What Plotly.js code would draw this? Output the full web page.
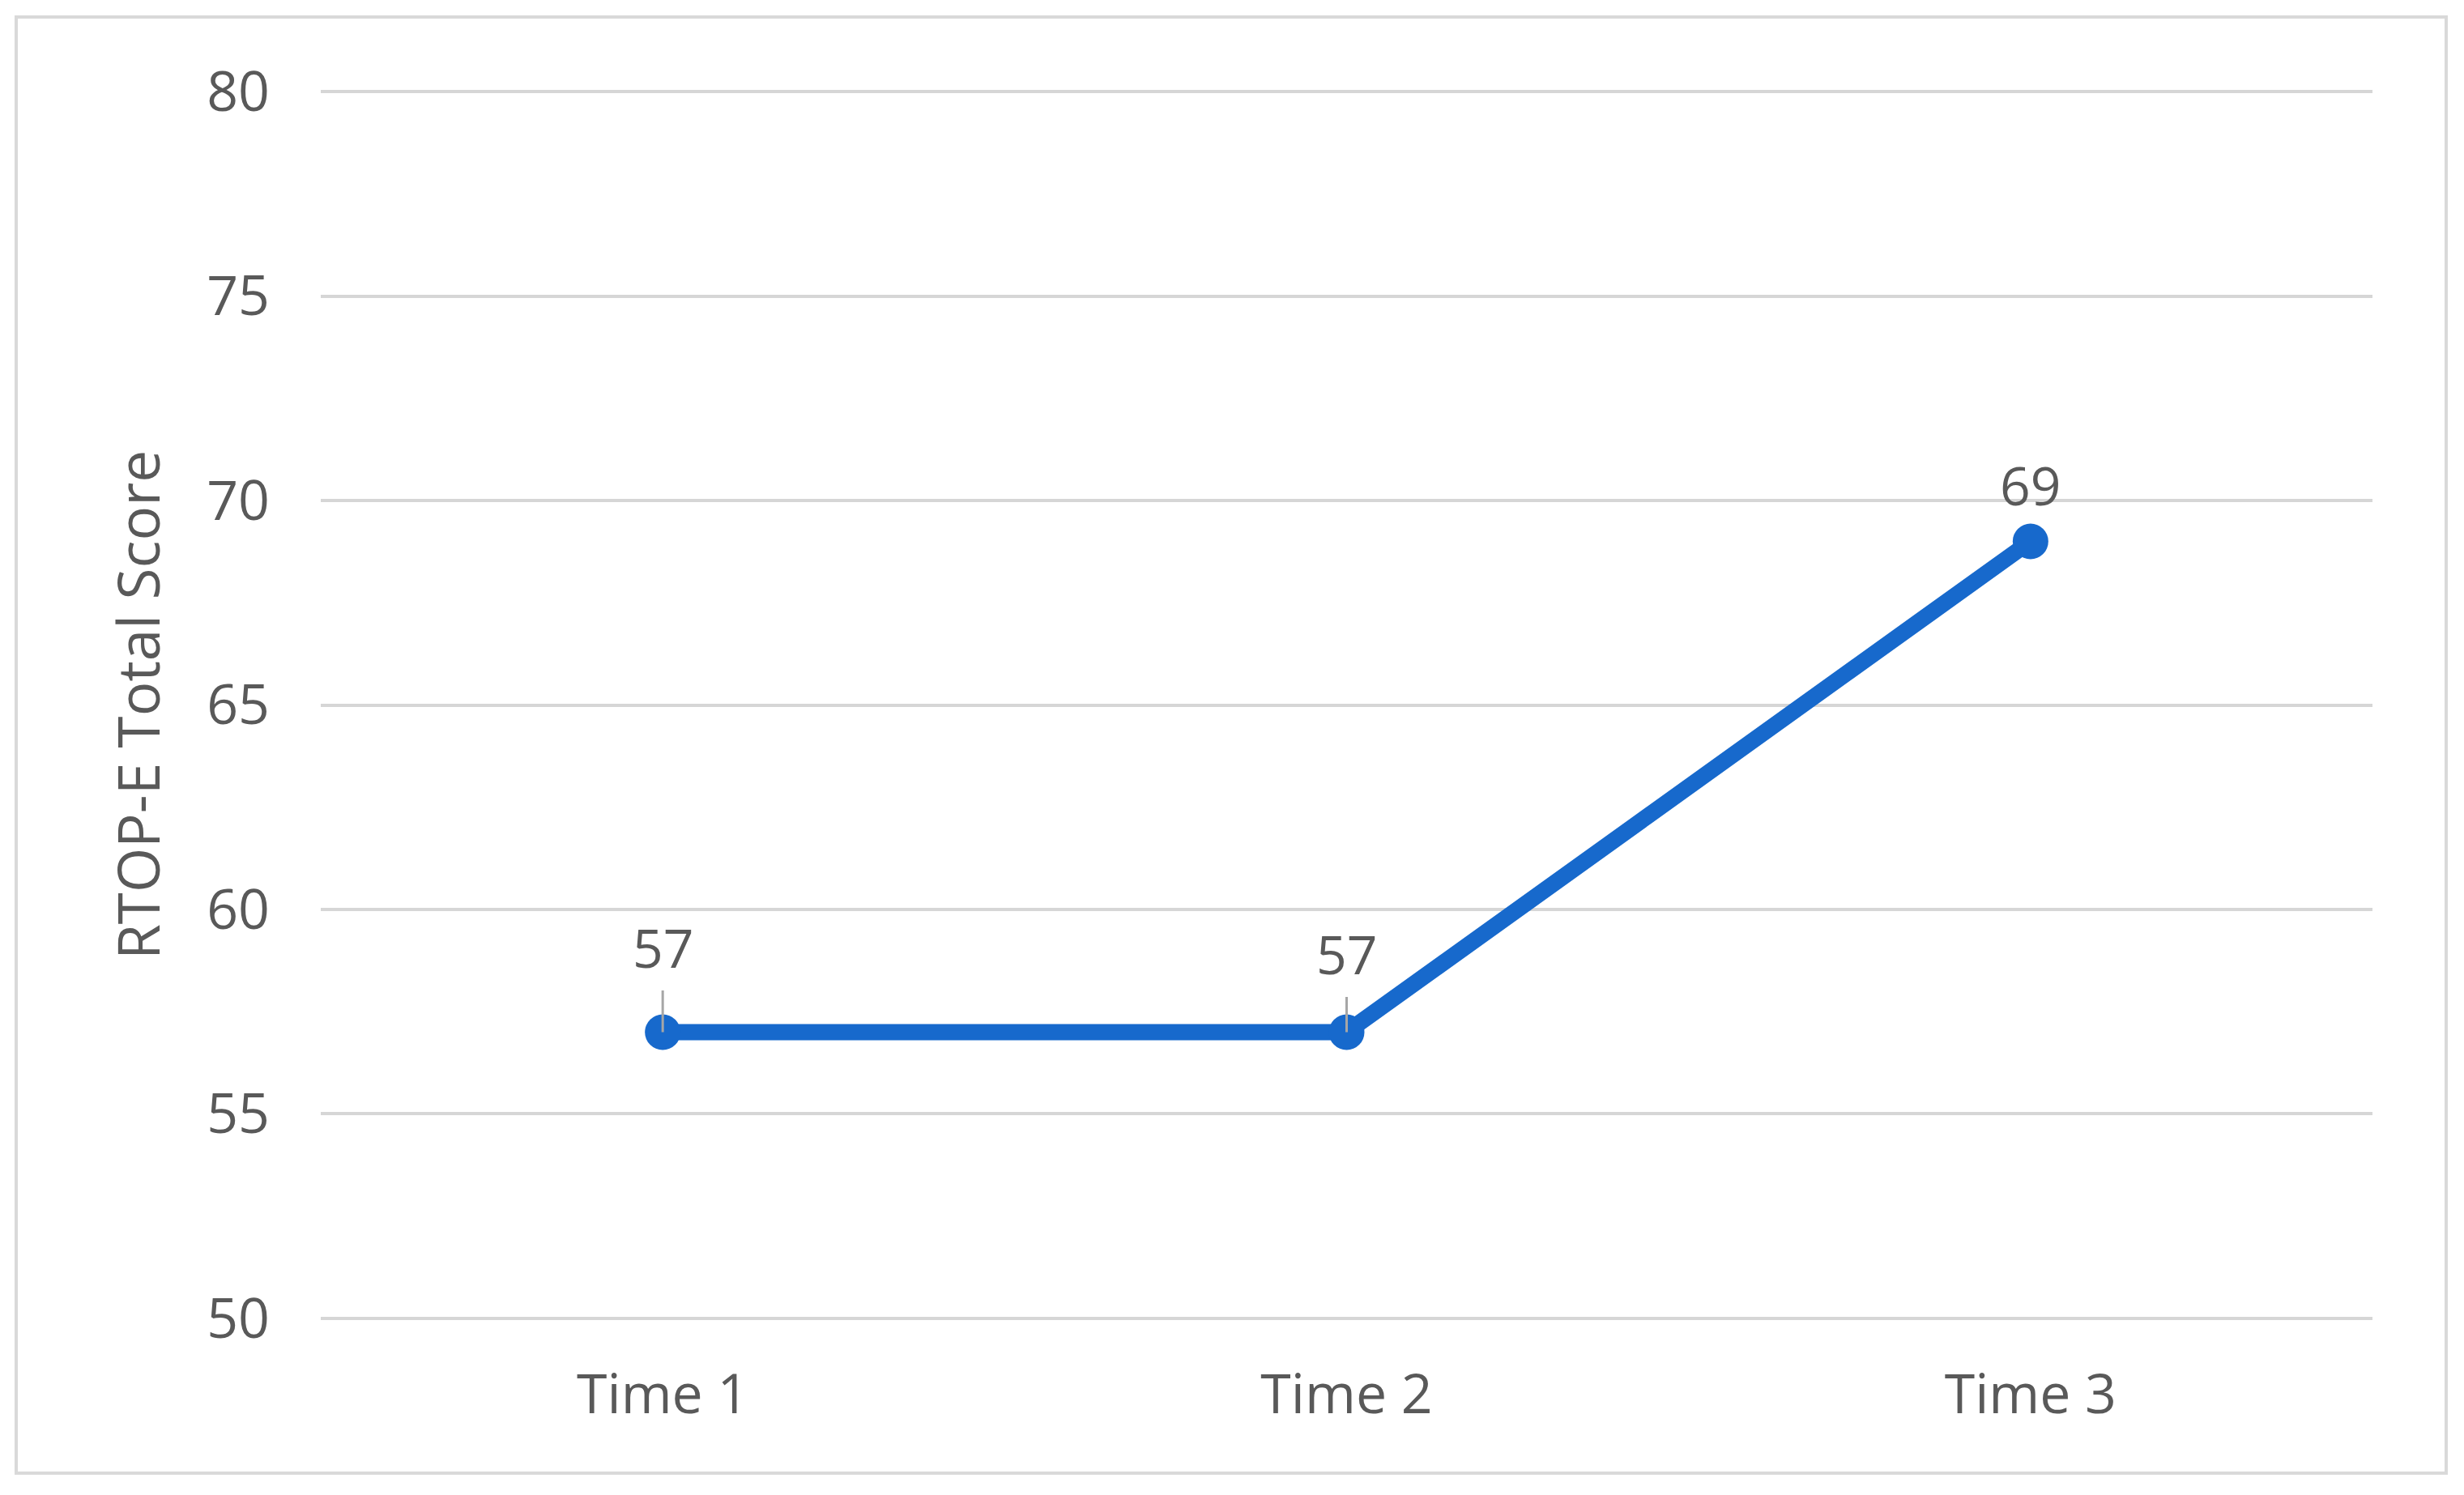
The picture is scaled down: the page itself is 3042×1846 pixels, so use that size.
<!DOCTYPE html>
<html>
<head>
<meta charset="utf-8">
<script src="https://cdn.plot.ly/plotly-3.0.1.min.js"></script>
<style>
  html, body { margin: 0; padding: 0; background: #ffffff; }
  #chart { position: absolute; left: 0; top: 0; width: 3042px; height: 1846px; }
  #frame { position: absolute; left: 18px; top: 19px; width: 2996px; height: 1794px;
           border: 4px solid #d9d9d9; pointer-events: none; }
</style>
</head>
<body>
<div id="chart"></div>
<div id="frame"></div>
<script>
// ---- data ----
const categories = ["Time 1", "Time 2", "Time 3"];
const scores = [57, 57, 69];
const yTicks = [50, 55, 60, 65, 70, 75, 80];
const yTitle = "RTOP-E Total Score";

// ---- style ----
const blue = "#1769cc";
const textGray = "#595959";
const fontFam = "Open Sans, Segoe UI, sans-serif";
// label offsets (pixels above each point) and whether a leader line is drawn
const labelOffset = [-105, -97, -71];
const labelLeader = [true, true, false];

const trace = {
  type: "scatter",
  mode: "lines+markers",
  x: categories,
  y: scores,
  line: { color: blue, width: 20 },
  marker: { color: blue, size: 44 },
  hoverinfo: "skip",
  cliponaxis: false
};

const annotations = categories.map((c, i) => {
  const a = {
    x: c, y: scores[i], xref: "x", yref: "y",
    text: String(scores[i]),
    font: { family: fontFam, size: 66, color: textGray },
    showarrow: labelLeader[i]
  };
  if (labelLeader[i]) {
    a.ax = 0; a.ay = labelOffset[i];
    a.arrowhead = 0; a.arrowwidth = 3; a.arrowcolor = "#a6a6a6";
    a.standoff = 0; a.borderpad = 8;
  } else {
    a.yanchor = "middle"; a.yshift = -labelOffset[i];
  }
  return a;
});

const layout = {
  width: 3042, height: 1846,
  margin: { l: 396, r: 113, t: 112, b: 217, pad: 0 },
  paper_bgcolor: "#ffffff", plot_bgcolor: "#ffffff",
  showlegend: false,
  font: { family: fontFam, color: textGray, size: 68 },
  xaxis: {
    type: "category",
    range: [-0.5, 2.5],
    showgrid: false, zeroline: false, showline: false,
    ticks: "",
    ticklabelstandoff: 47,
    tickfont: { family: fontFam, size: 68, color: textGray },
    fixedrange: true
  },
  yaxis: {
    range: [49.98, 80.02],
    tickvals: yTicks,
    ticktext: yTicks.map(String),
    showgrid: true, gridcolor: "#d6d6d6", gridwidth: 4,
    zeroline: false, showline: false, ticks: "",
    ticklabelstandoff: 62,
    tickfont: { family: fontFam, size: 68, color: textGray },
    title: { text: yTitle, font: { family: fontFam, size: 71, color: textGray }, standoff: 34 },
    fixedrange: true
  },
  annotations: annotations
};

Plotly.newPlot("chart", [trace], layout, { displayModeBar: false, staticPlot: true });
</script>
</body>
</html>
